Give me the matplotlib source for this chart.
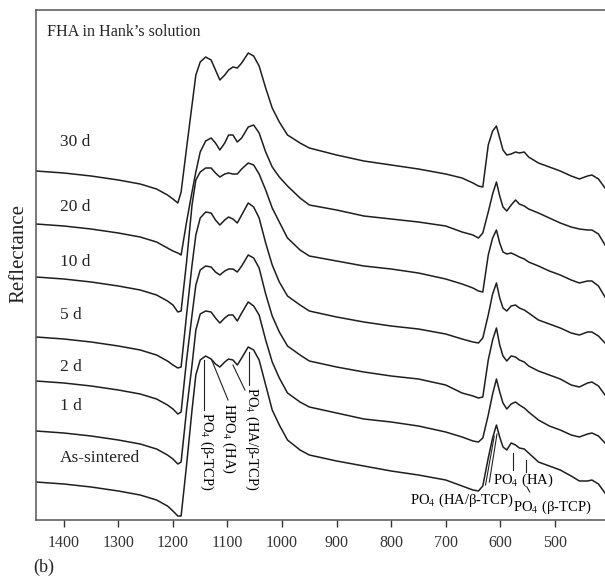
import numpy as np
import matplotlib
matplotlib.use("Agg")
import matplotlib.pyplot as plt

plt.rcParams['font.family'] = ['Liberation Serif', 'DejaVu Serif']
plt.rcParams['mathtext.fontset'] = 'stix'

# wavenumber grid (cm-1) shared by all spectra
wavenumber = [1451, 1400, 1350, 1300, 1260, 1230, 1210, 1200, 1191, 1185,
              1175, 1165, 1158, 1150, 1140, 1130, 1122, 1114, 1105, 1098,
              1090, 1082, 1074, 1062, 1052, 1042, 1030, 1018, 1005, 990,
              967, 950, 900, 850, 800, 750, 700, 670, 650, 640,
              632, 622, 614, 607, 601, 595, 588, 580, 572, 565,
              556, 548, 530, 510, 490, 470, 455, 440, 432, 420,
              408]

# stacked reflectance (a.u.), top to bottom
r_30d = [349, 347, 344, 340, 336, 331, 325, 321, 317, 328,
         372, 415, 445, 458, 463, 460, 450, 440, 445, 450,
         453, 452, 457, 467, 464, 454, 432, 412, 398, 385,
         377, 372, 365, 359, 355, 351, 346, 342, 337, 334,
         333, 375, 389, 394, 382, 370, 365, 366, 368, 367,
         368, 363, 357, 353, 349, 344, 341, 344, 345, 341,
         332]
r_20d = [296, 294, 291, 287, 283, 278, 272, 269, 267, 265,
         298, 328, 348, 368, 379, 382, 377, 370, 377, 385,
         385, 378, 382, 393, 395, 387, 368, 353, 343, 334,
         322, 315, 310, 304, 301, 298, 294, 288, 285, 282,
         287, 308, 326, 338, 324, 313, 309, 315, 320, 316,
         314, 311, 307, 302, 297, 293, 291, 290, 290, 286,
         275]
r_10d = [243, 241, 238, 234, 230, 225, 219, 215, 208, 209,
         258, 315, 340, 348, 352, 352, 347, 343, 346, 347,
         346, 346, 351, 357, 355, 346, 330, 312, 298, 282,
         270, 264, 259, 254, 251, 247, 241, 236, 232, 229,
         228, 265, 282, 290, 277, 268, 266, 267, 265, 263,
         261, 258, 254, 249, 245, 240, 237, 239, 239, 234,
         223]
r_5d = [183, 181, 178, 174, 170, 165, 159, 155, 152, 153,
        205, 255, 285, 302, 308, 307, 300, 295, 300, 303,
        301, 297, 305, 317, 313, 302, 277, 255, 238, 224,
        215, 209, 203, 198, 194, 191, 186, 181, 178, 177,
        182, 205, 226, 237, 222, 212, 209, 214, 215, 212,
        210, 207, 200, 196, 192, 187, 185, 188, 188, 184,
        177]
r_2d = [139, 137, 134, 130, 126, 121, 115, 111, 106, 108,
        160, 205, 235, 250, 254, 253, 248, 245, 249, 251,
        251, 248, 254, 265, 262, 252, 226, 204, 188, 174,
        165, 159, 153, 148, 144, 141, 135, 127, 124, 122,
        123, 160, 180, 192, 175, 164, 159, 164, 163, 160,
        158, 154, 149, 145, 141, 135, 133, 137, 138, 134,
        125]
r_1d = [89, 87, 84, 80, 76, 71, 65, 61, 56, 58,
        110, 155, 190, 206, 209, 208, 202, 197, 202, 205,
        205, 199, 207, 218, 214, 205, 180, 158, 142, 127,
        118, 113, 107, 101, 98, 94, 88, 83, 79, 78,
        82, 105, 126, 141, 128, 117, 111, 116, 118, 115,
        112, 108, 100, 94, 90, 85, 83, 86, 87, 84,
        77]
r_as = [38, 36, 33, 29, 25, 20, 14, 9, 4, 4,
        55, 110, 145, 160, 164, 161, 156, 153, 158, 161,
        160, 155, 162, 173, 170, 160, 135, 110, 95, 80,
        70, 65, 59, 54, 49, 45, 40, 34, 30, 29,
        34, 62, 82, 95, 83, 73, 70, 77, 75, 72,
        71, 67, 58, 54, 50, 44, 39, 39, 40, 36,
        27]

labels = ['30 d', '20 d', '10 d', '5 d', '2 d', '1 d', 'As-sintered']
label_y = [378, 313, 258, 205, 153, 114, 62]
spectra = [r_30d, r_20d, r_10d, r_5d, r_2d, r_1d, r_as]
xticks = [1400, 1300, 1200, 1100, 1000, 900, 800, 700, 600, 500]

fig = plt.figure(figsize=(6.05, 5.79), dpi=100)
ax = fig.add_axes([36 / 605, 1 - 520 / 579, 1 - 36 / 605, 510 / 579])

for r in spectra:
    ax.plot(wavenumber, r, color='#1e1e1e', lw=1.1, solid_joinstyle='round')

for lab, y in zip(labels, label_y):
    ax.text(1407, y, lab, fontsize=12.5, ha='left', va='center', color='#222')

ax.text(0.019, 0.957, 'FHA in Hank\u2019s solution', transform=ax.transAxes,
        fontsize=11.6, ha='left', va='center', color='#222')

# band assignments on the as-sintered spectrum
ann = dict(color='#222', lw=0.8)
fs = 10.5
ax.plot([1143, 1143], [160, 110], **ann)
ax.text(1139, 108, 'PO$_4$ (β-TCP)', rotation=270, ha='center', va='top', fontsize=fs)
ax.plot([1129, 1099], [160, 120], **ann)
ax.text(1098, 117, 'HPO$_4$ (HA)', rotation=270, ha='center', va='top', fontsize=fs)
ax.plot([1090, 1068], [155, 130], **ann)
ax.plot([1061, 1061], [168, 135], **ann)
ax.text(1055, 133, 'PO$_4$ (HA/β-TCP)', rotation=270, ha='center', va='top', fontsize=fs)

ax.plot([627, 611], [35, 84], **ann)
ax.plot([620, 606], [38, 86], **ann)
ax.text(671, 20, 'PO$_4$ (HA/β-TCP)', ha='center', va='center', fontsize=fs)
ax.plot([577, 577], [67, 50], **ann)
ax.plot([553, 553], [60, 48], **ann)
ax.plot([551, 546], [33, 28], **ann)
ax.text(614, 40, 'PO$_4$ (HA)', ha='left', va='center', fontsize=fs)
ax.text(577, 13, 'PO$_4$ (β-TCP)', ha='left', va='center', fontsize=fs)

ax.set_xlim(1451, 408)
ax.set_ylim(0, 510)
ax.set_xticks(xticks)
ax.set_yticks([])
ax.tick_params(axis='x', direction='out', length=5, width=1, pad=6,
               labelsize=11.5, colors='#333')
for s in ['left', 'bottom', 'top']:
    ax.spines[s].set_color('#555')
    ax.spines[s].set_linewidth(1.1)
ax.spines['right'].set_visible(False)

fig.text(19 / 605, 1 - 254 / 579, 'Reflectance', rotation=90, ha='center', va='center',
         fontsize=15, color='#222')
fig.text(33 / 605, 1 - 567 / 579, '(b)', ha='left', va='center', fontsize=13, color='#222')

fig.savefig('out.png', dpi=100)
